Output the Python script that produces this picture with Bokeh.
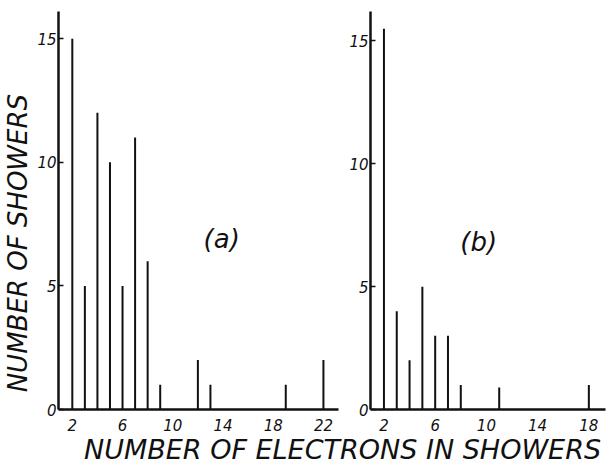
from math import pi
from bokeh.plotting import figure
from bokeh.models import Range1d, Label, FixedTicker, ColumnDataSource
from bokeh.layouts import row, column
from bokeh.embed import file_html
from bokeh.resources import INLINE

# ---- data ----
a_electrons = [2, 3, 4, 5, 6, 7, 8, 9, 12, 13, 19, 22]
a_showers = [15, 5, 12, 10, 5, 11, 6, 1, 2, 1, 1, 2]
b_electrons = [2, 3, 4, 5, 6, 7, 8, 11, 18]
b_showers = [15.5, 4, 2, 5, 3, 3, 1, 0.9, 1]
y_ticks = [0, 5, 10, 15]
a_x_ticks = [2, 6, 10, 14, 18, 22]
b_x_ticks = [2, 6, 10, 14, 18]
y_label = "NUMBER OF SHOWERS"
x_label = "NUMBER OF ELECTRONS IN SHOWERS"
panel_a = "(a)"
panel_b = "(b)"

FONT = "DejaVu Sans"
INK = "#111111"
H = 433
HX = 32
YW = 34


def blank(width, height):
    p = figure(width=width, height=height, x_range=Range1d(0, width), y_range=Range1d(0, height),
               output_backend="svg", toolbar_location=None,
               min_border_left=0, min_border_right=0, min_border_top=0, min_border_bottom=0)
    p.axis.visible = False
    p.grid.visible = False
    p.outline_line_color = None
    return p


def panel(width, xr, yr, xticks, bl, br, bt, bb):
    p = figure(width=width, height=H, x_range=Range1d(*xr), y_range=Range1d(*yr),
               output_backend="svg", toolbar_location=None,
               min_border_left=bl, min_border_right=br,
               min_border_top=bt, min_border_bottom=bb)
    p.outline_line_color = None
    p.xgrid.visible = False
    p.ygrid.visible = False
    for ax in (p.xaxis[0], p.yaxis[0]):
        ax.axis_line_width = 2.5
        ax.axis_line_color = INK
        ax.major_label_text_font = FONT
        ax.major_label_text_font_style = "italic"
        ax.major_label_text_font_size = "15px"
        ax.major_label_text_color = INK
        ax.minor_tick_line_color = None
    p.xaxis.ticker = FixedTicker(ticks=xticks)
    p.xaxis.major_tick_line_color = None
    p.xaxis.major_label_standoff = 3
    p.yaxis.ticker = FixedTicker(ticks=y_ticks)
    p.yaxis.major_tick_in = 5
    p.yaxis.major_tick_out = 0
    p.yaxis.major_tick_line_width = 1.5
    p.yaxis.major_tick_line_color = INK
    p.yaxis.major_label_standoff = 2
    return p


# left strip holding the y-axis title
ylab = blank(YW, H)
ylab.add_layout(Label(x=YW / 2, y=H - 252, text=y_label, angle=pi / 2, text_font=FONT,
                      text_font_style="italic", text_font_size="26px", text_align="center",
                      text_baseline="middle", text_color=INK))

pa = panel(340 - YW, (0.9, 23.2), (0, 16.1), a_x_ticks, 20, 2, 11, 21)
src_a = ColumnDataSource(dict(x=a_electrons, y=a_showers, y0=[0] * len(a_showers)))
pa.segment(x0="x", y0="y0", x1="x", y1="y", source=src_a, line_width=2, line_color=INK)
pa.add_layout(Label(x=13.9, y=6.9, text=panel_a, text_font=FONT, text_font_style="italic",
                    text_font_size="26px", text_align="center", text_baseline="middle",
                    text_color=INK))

pb = panel(270, (0.95, 19.3), (0, 16.2), b_x_ticks, 30, 5, 6, 21)
src_b = ColumnDataSource(dict(x=b_electrons, y=b_showers, y0=[0] * len(b_showers)))
pb.segment(x0="x", y0="y0", x1="x", y1="y", source=src_b, line_width=2, line_color=INK)
pb.add_layout(Label(x=9.4, y=6.8, text=panel_b, text_font=FONT, text_font_style="italic",
                    text_font_size="26px", text_align="center", text_baseline="middle",
                    text_color=INK))

# bottom strip holding the shared x-axis title
xlab = blank(610, HX)
xlab.add_layout(Label(x=342, y=HX / 2, text=x_label, text_font=FONT, text_font_style="italic",
                      text_font_size="27px", text_align="center", text_baseline="middle",
                      text_color=INK))

layout = column(row(ylab, pa, pb), xlab)
open("out.html", "w").write(file_html(layout, INLINE))
